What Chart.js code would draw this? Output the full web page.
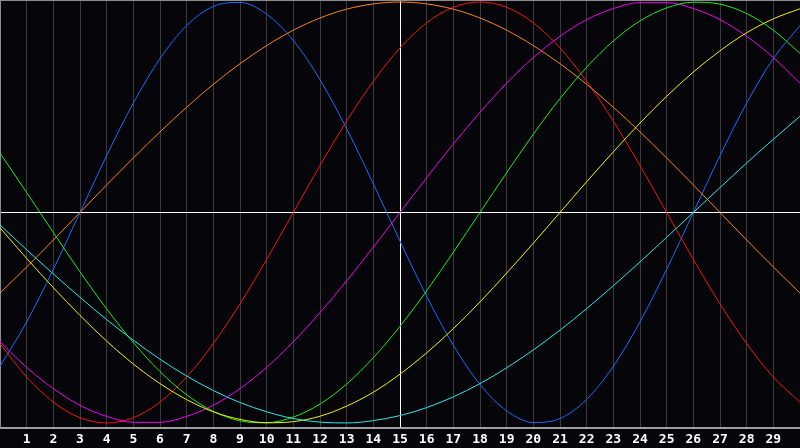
<!DOCTYPE html>
<html>
<head>
<meta charset="utf-8">
<script src="https://cdn.jsdelivr.net/npm/chart.js@4.4.1/dist/chart.umd.min.js"></script>
<style>
    html, body { margin: 0; padding: 0; background: #060509; }
    #contenedor { width: 800px; height: 448px; }
</style>
</head>
<body>
<div id="contenedor"><canvas id="grafica"></canvas></div>
<script>
// Días del eje x (0 y 30 quedan sin etiqueta)
const dias = Array.from({ length: 31 }, (_, i) => i);

// Valores, uno por día
const fisico = [-0.731, -0.520, -0.270, 0, 0.270, 0.520, 0.731, 0.888, 0.979, 0.998, 0.942, 0.817, 0.631, 0.398, 0.136, -0.136, -0.398, -0.631, -0.817, -0.942, -0.998, -0.979, -0.888, -0.731, -0.520, -0.270, 0, 0.270, 0.520, 0.731, 0.888];
const emocional = [-0.623, -0.782, -0.901, -0.975, -1, -0.975, -0.901, -0.782, -0.623, -0.434, -0.223, 0, 0.223, 0.434, 0.623, 0.782, 0.901, 0.975, 1, 0.975, 0.901, 0.782, 0.623, 0.434, 0.223, 0, -0.223, -0.434, -0.623, -0.782, -0.901];
const intelectual = [0.282, 0.095, -0.095, -0.282, -0.458, -0.618, -0.756, -0.866, -0.945, -0.990, -0.999, -0.972, -0.910, -0.815, -0.690, -0.541, -0.372, -0.189, 0, 0.189, 0.372, 0.541, 0.690, 0.815, 0.910, 0.972, 0.999, 0.990, 0.945, 0.866, 0.756];
const intuitivo = [-0.614, -0.736, -0.837, -0.916, -0.969, -0.997, -0.997, -0.969, -0.916, -0.837, -0.736, -0.614, -0.476, -0.325, -0.165, 0, 0.165, 0.325, 0.476, 0.614, 0.736, 0.837, 0.916, 0.969, 0.997, 0.997, 0.969, 0.916, 0.837, 0.736, 0.614];
const estetico = [-0.073, -0.218, -0.357, -0.489, -0.611, -0.720, -0.813, -0.889, -0.947, -0.983, -0.999, -0.994, -0.968, -0.920, -0.854, -0.768, -0.667, -0.552, -0.425, -0.288, -0.146, 0, 0.146, 0.288, 0.425, 0.552, 0.667, 0.768, 0.854, 0.920, 0.968];
const conciencia = [-0.383, -0.259, -0.131, 0, 0.131, 0.259, 0.383, 0.500, 0.609, 0.707, 0.793, 0.866, 0.924, 0.966, 0.991, 1, 0.991, 0.966, 0.924, 0.866, 0.793, 0.707, 0.609, 0.500, 0.383, 0.259, 0.131, 0, -0.131, -0.259, -0.383];
const espiritual = [-0.059, -0.177, -0.292, -0.403, -0.509, -0.607, -0.697, -0.777, -0.846, -0.903, -0.947, -0.979, -0.996, -1.000, -0.989, -0.965, -0.927, -0.876, -0.813, -0.738, -0.653, -0.559, -0.457, -0.348, -0.235, -0.118, 0, 0.118, 0.235, 0.348, 0.457];

const diaMarcado = 15;

function serie(datos, color) {
    return {
        data: datos,
        borderColor: color,
        borderWidth: 1,
        pointRadius: 0,
        cubicInterpolationMode: 'monotone',
        fill: false
    };
}

// Marco superior del área de la gráfica
const marco = {
    id: 'marco',
    afterDraw(chart) {
        const { ctx, chartArea } = chart;
        ctx.save();
        ctx.strokeStyle = '#8c8c8c';
        ctx.lineWidth = 1;
        ctx.beginPath();
        ctx.moveTo(chartArea.left, chartArea.top + 0.5);
        ctx.lineTo(chartArea.right, chartArea.top + 0.5);
        ctx.stroke();
        ctx.restore();
    }
};

const ctx = document.getElementById('grafica').getContext('2d');
new Chart(ctx, {
    type: 'line',
    data: {
        labels: dias,
        datasets: [
            serie(espiritual, '#22ecec'),
            serie(estetico, '#f4f400'),
            serie(intelectual, '#14f014'),
            serie(intuitivo, '#f400f4'),
            serie(conciencia, '#ff8414'),
            serie(emocional, '#f41414'),
            serie(fisico, '#1a6cff')
        ]
    },
    options: {
        responsive: true,
        maintainAspectRatio: false,
        animation: false,
        events: [],
        layout: { padding: 0 },
        plugins: {
            legend: { display: false },
            tooltip: { enabled: false }
        },
        scales: {
            x: {
                type: 'category',
                offset: false,
                grid: {
                    color: c => c.index === diaMarcado ? '#ffffff' : '#3a3a3a',
                    lineWidth: 1,
                    drawTicks: false
                },
                border: { color: '#a0a0a0', width: 2 },
                ticks: {
                    autoSkip: false,
                    maxRotation: 0,
                    padding: 4,
                    color: '#ffffff',
                    font: { family: 'DejaVu Sans Mono', size: 13, weight: 'bold' },
                    callback: (v, i) => (i === 0 || i === dias.length - 1) ? '' : dias[i]
                },
                afterFit: escala => {
                    escala.height = 20;
                    escala.paddingLeft = 0;
                    escala.paddingRight = 0;
                }
            },
            y: {
                min: -1.024,
                max: 1.0095,
                afterBuildTicks: escala => { escala.ticks = [{ value: 0 }]; },
                grid: { color: '#ffffff', lineWidth: 1, drawTicks: false },
                border: { color: '#8c8c8c', width: 1 },
                ticks: { display: false },
                afterFit: escala => {
                    escala.width = 0;
                    escala.paddingTop = 0;
                    escala.paddingBottom = 0;
                }
            }
        }
    },
    plugins: [marco]
});
</script>
</body>
</html>
